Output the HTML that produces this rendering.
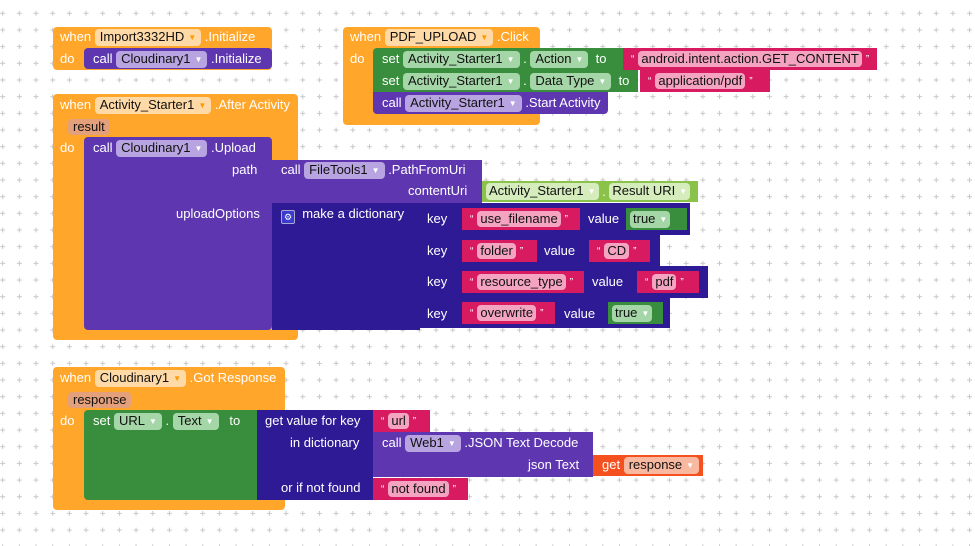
<!DOCTYPE html>
<html><head><meta charset="utf-8">
<style>
body{margin:0;width:975px;height:546px;overflow:hidden;background:#fff;font-family:"Liberation Sans",Arial,sans-serif;position:relative}
.b{position:absolute;box-sizing:border-box}
.o{background:#ffa62b;border-radius:4px}
.p{background:#5e37b0}
.n{background:#2e1a94}
.g{background:#388e3c}
.lg{background:#8bc34a}
.k{background:#d81b60}
.r{background:#f4511e}
.t{position:absolute;color:#fff;font-size:13px;line-height:16px;white-space:nowrap}
.f{display:flex;align-items:center;color:#fff;font-size:13px;white-space:nowrap;padding-left:4px;overflow:hidden}
.pl{display:inline-block;border-radius:4px;padding:0 5px;color:#111;font-size:13px;line-height:16px}
.f .pl{padding:0 3px}
.po{background:#ffd9a6}.pp{background:#b7a4e0}.pg{background:#a5d6a7}.pk{background:#f4a4c0}.pl2{background:#d5ecbc}.pr{background:#e3a07a}
.ar{font-size:8px;color:#fff;margin-left:4px;vertical-align:1px}
.q{font-size:10px;margin:0 4px}
</style></head><body>
<svg width="975" height="546" style="position:absolute;left:0;top:0">
<defs><pattern id="gp" x="52.7" y="346.7" width="16.67" height="16.67" patternUnits="userSpaceOnUse">
<path d="M0 -2.5 V2.5 M-2.5 0 H2.5 M16.67 -2.5 V2.5 M14.17 0 H19.17 M0 14.17 V19.17 M-2.5 16.67 H2.5 M16.67 14.17 V19.17 M14.17 16.67 H19.17" stroke="#c8c8c8" stroke-width="1"/></pattern></defs>
<rect width="975" height="546" fill="url(#gp)"/>
</svg>

<!-- Block 1 -->
<div class="b o" style="left:53px;top:27px;width:219px;height:43px"></div>
<div class="b p" style="left:84px;top:48px;width:188px;height:21px;border-radius:4px"></div>
<div class="t" style="left:60px;top:29px">when <span class="pl po">Import3332HD<span class="ar" style="color:#f90">▼</span></span> .Initialize</div>
<div class="t" style="left:60px;top:51px">do</div>
<div class="t" style="left:93px;top:51px">call <span class="pl pp">Cloudinary1<span class="ar">▼</span></span> .Initialize</div>

<!-- PDF block -->
<div class="b o" style="left:343px;top:27px;width:197px;height:98px"></div>
<div class="b g" style="left:373px;top:48px;width:260px;height:22px;border-radius:4px 0 0 0"></div>
<div class="b k f" style="left:623px;top:48px;width:254px;height:22px"><span class="q">“</span><span class="pl pk">android.intent.action.GET_CONTENT</span><span class="q">”</span></div>
<div class="b g" style="left:373px;top:70px;width:265px;height:22px"></div>
<div class="b k f" style="left:640px;top:70px;width:130px;height:22px"><span class="q">“</span><span class="pl pk">application/pdf</span><span class="q">”</span></div>
<div class="b p" style="left:373px;top:92px;width:235px;height:22px;border-radius:0 0 4px 4px"></div>
<div class="t" style="left:350px;top:29px">when <span class="pl po">PDF_UPLOAD<span class="ar" style="color:#f90">▼</span></span> .Click</div>
<div class="t" style="left:350px;top:51px">do</div>
<div class="t" style="left:382px;top:51px">set <span class="pl pg">Activity_Starter1<span class="ar">▼</span></span> . <span class="pl pg">Action<span class="ar">▼</span></span> &nbsp;to</div>
<div class="t" style="left:382px;top:73px">set <span class="pl pg">Activity_Starter1<span class="ar">▼</span></span> . <span class="pl pg">Data Type<span class="ar">▼</span></span> &nbsp;to</div>
<div class="t" style="left:382px;top:95px">call <span class="pl pp">Activity_Starter1<span class="ar">▼</span></span> .Start Activity</div>

<!-- After Activity -->
<div class="b o" style="left:53px;top:94px;width:245px;height:246px"></div>
<div class="b p" style="left:84px;top:137px;width:188px;height:193px;border-radius:4px"></div>
<div class="b p" style="left:272px;top:160px;width:210px;height:43px"></div>
<div class="b lg f" style="left:482px;top:181px;width:216px;height:21px"><span class="pl pl2">Activity_Starter1<span class="ar">▼</span></span>&nbsp;.&nbsp;<span class="pl pl2">Result URI<span class="ar">▼</span></span></div>
<div class="b n" style="left:272px;top:203px;width:148px;height:127px"></div>
<div class="b n" style="left:420px;top:203px;width:270px;height:32px"></div>
<div class="b n" style="left:420px;top:235px;width:240px;height:31px"></div>
<div class="b n" style="left:420px;top:266px;width:288px;height:32px"></div>
<div class="b n" style="left:420px;top:298px;width:250px;height:30px"></div>

<div class="b k f" style="left:462px;top:208px;width:118px;height:22px"><span class="q">“</span><span class="pl pk">use_filename</span><span class="q">”</span></div>
<div class="b g f" style="left:626px;top:208px;width:61px;height:22px"><span class="pl pg">true<span class="ar">▼</span></span></div>
<div class="b k f" style="left:462px;top:240px;width:75px;height:22px"><span class="q">“</span><span class="pl pk">folder</span><span class="q">”</span></div>
<div class="b k f" style="left:589px;top:240px;width:61px;height:22px"><span class="q">“</span><span class="pl pk">CD</span><span class="q">”</span></div>
<div class="b k f" style="left:462px;top:271px;width:122px;height:22px"><span class="q">“</span><span class="pl pk">resource_type</span><span class="q">”</span></div>
<div class="b k f" style="left:637px;top:271px;width:62px;height:22px"><span class="q">“</span><span class="pl pk">pdf</span><span class="q">”</span></div>
<div class="b k f" style="left:462px;top:302px;width:93px;height:22px"><span class="q">“</span><span class="pl pk">overwrite</span><span class="q">”</span></div>
<div class="b g f" style="left:608px;top:302px;width:55px;height:22px"><span class="pl pg">true<span class="ar">▼</span></span></div>

<div class="t" style="left:60px;top:97px">when <span class="pl po">Activity_Starter1<span class="ar" style="color:#f90">▼</span></span> .After Activity</div>
<div class="t" style="left:68px;top:119px"><span class="pl pr">result</span></div>
<div class="t" style="left:60px;top:140px">do</div>
<div class="t" style="left:93px;top:140px">call <span class="pl pp">Cloudinary1<span class="ar">▼</span></span> .Upload</div>
<div class="t" style="left:232px;top:162px">path</div>
<div class="t" style="left:281px;top:162px">call <span class="pl pp">FileTools1<span class="ar">▼</span></span> .PathFromUri</div>
<div class="t" style="left:408px;top:183px">contentUri</div>
<div class="t" style="left:176px;top:206px">uploadOptions</div>
<div class="t" style="left:281px;top:206px"><span style="display:inline-block;width:12px;height:12px;border:1px solid #aac;border-radius:2px;background:#3a3ad0;vertical-align:-2px;font-size:9px;text-align:center;line-height:12px">⚙</span> &nbsp;make a dictionary</div>
<div class="t" style="left:427px;top:211px">key</div>
<div class="t" style="left:588px;top:211px">value</div>
<div class="t" style="left:427px;top:243px">key</div>
<div class="t" style="left:544px;top:243px">value</div>
<div class="t" style="left:427px;top:274px">key</div>
<div class="t" style="left:592px;top:274px">value</div>
<div class="t" style="left:427px;top:306px">key</div>
<div class="t" style="left:564px;top:306px">value</div>

<!-- Got Response -->
<div class="b o" style="left:53px;top:367px;width:232px;height:143px"></div>
<div class="b g" style="left:84px;top:410px;width:174px;height:90px;border-radius:4px 0 0 4px"></div>
<div class="b n" style="left:257px;top:410px;width:116px;height:90px"></div>
<div class="b k f" style="left:373px;top:410px;width:57px;height:22px"><span class="q">“</span><span class="pl pk">url</span><span class="q">”</span></div>
<div class="b p" style="left:373px;top:432px;width:220px;height:45px"></div>
<div class="b r" style="left:593px;top:455px;width:110px;height:21px"></div>
<div class="b k f" style="left:373px;top:478px;width:95px;height:22px"><span class="q">“</span><span class="pl pk">not found</span><span class="q">”</span></div>
<div class="t" style="left:60px;top:370px">when <span class="pl po">Cloudinary1<span class="ar" style="color:#f90">▼</span></span> .Got Response</div>
<div class="t" style="left:68px;top:392px"><span class="pl pr">response</span></div>
<div class="t" style="left:60px;top:413px">do</div>
<div class="t" style="left:93px;top:413px">set <span class="pl pg">URL<span class="ar">▼</span></span> . <span class="pl pg">Text<span class="ar">▼</span></span> &nbsp;&nbsp;to</div>
<div class="t" style="left:265px;top:413px">get value for key</div>
<div class="t" style="left:290px;top:435px">in dictionary</div>
<div class="t" style="left:382px;top:435px">call <span class="pl pp">Web1<span class="ar">▼</span></span> .JSON Text Decode</div>
<div class="t" style="left:528px;top:457px">json Text</div>
<div class="t" style="left:602px;top:457px">get <span class="pl" style="background:#f8b9a0">response<span class="ar">▼</span></span></div>
<div class="t" style="left:281px;top:480px">or if not found</div>
</body></html>
